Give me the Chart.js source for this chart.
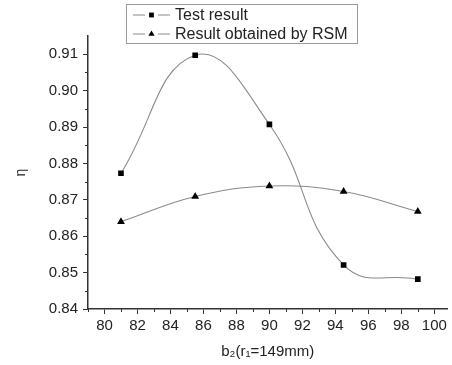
<!DOCTYPE html>
<html>
<head>
<meta charset="utf-8">
<script src="https://cdn.jsdelivr.net/npm/chart.js@4.4.1/dist/chart.umd.min.js"></script>
<style>
  html, body { margin: 0; padding: 0; background: #fff; }
  #wrap { position: relative; width: 452px; height: 365px; }
</style>
</head>
<body>
<div id="wrap"><canvas id="grafico" width="452" height="365"></canvas></div>
<script>
// dados
const b2Values = [81, 85.5, 90, 94.5, 99];
const testResult = [0.8773, 0.9097, 0.8907, 0.8521, 0.8482];
const rsmResult = [0.8640, 0.8709, 0.8738, 0.8723, 0.8668];
const seriesNames = ['Test result', 'Result obtained by RSM'];
const xTitle = 'b\u2082(r\u2081=149mm)';
const yTitle = '\u03b7';

const fonte = "'Liberation Sans', Arial, sans-serif";
const corTexto = '#222';
const corEixo = '#333';
const corLinha = '#8a8a8a';

function pares(xs, ys) {
    return xs.map((x, i) => ({ x: x, y: ys[i] }));
}

// legenda desenhada à mão (caixa com duas linhas, alinhada à esquerda)
const legendaPlugin = {
    id: 'legendaCaixa',
    afterDraw(chart) {
        const ctx = chart.ctx;
        const x0 = 126, y0 = 4, w = 231, h = 39;
        ctx.save();
        ctx.fillStyle = '#fff';
        ctx.fillRect(x0, y0, w, h);
        ctx.strokeStyle = '#9a9a9a';
        ctx.lineWidth = 1;
        ctx.strokeRect(x0 + 0.5, y0 + 0.5, w, h);
        chart.data.datasets.forEach((ds, i) => {
            const y = 15 + i * 19;
            ctx.strokeStyle = ds.borderColor;
            ctx.lineWidth = 1.2;
            ctx.beginPath();
            ctx.moveTo(133, y); ctx.lineTo(145, y);
            ctx.moveTo(158, y); ctx.lineTo(170, y);
            ctx.stroke();
            ctx.fillStyle = '#000';
            Chart.helpers.drawPoint(ctx, {
                pointStyle: ds.pointStyle,
                radius: ds.pointStyle === 'triangle' ? 3.6 : 3.4,
                rotation: 0,
                borderWidth: 0
            }, 151.5, y);
            ctx.fillStyle = corTexto;
            ctx.font = '16px ' + fonte;
            ctx.textBaseline = 'middle';
            ctx.textAlign = 'left';
            ctx.fillText(ds.label, 175, y + 1);
        });
        ctx.restore();
    }
};

// tracinhos menores entre os rótulos
const minorTicksPlugin = {
    id: 'minorTicks',
    afterDraw(chart) {
        const ctx = chart.ctx;
        const xs = chart.scales.x, ys = chart.scales.y;
        const area = chart.chartArea;
        ctx.save();
        ctx.strokeStyle = corEixo;
        ctx.lineWidth = 1;
        ctx.beginPath();
        for (let v = 79; v <= 100.8; v += 1) {
            if (v % 2 === 0) continue;
            const px = Math.round(xs.getPixelForValue(v)) + 0.5;
            ctx.moveTo(px, area.bottom);
            ctx.lineTo(px, area.bottom + 3);
        }
        for (let k = 1; k < 15; k += 2) {
            const v = 0.84 + k * 0.005;
            const py = Math.round(ys.getPixelForValue(v)) + 0.5;
            ctx.moveTo(area.left, py);
            ctx.lineTo(area.left - 3, py);
        }
        ctx.stroke();
        ctx.restore();
    }
};

const ctx = document.getElementById('grafico').getContext('2d');
const grafico = new Chart(ctx, {
    type: 'line',
    data: {
        datasets: [{
            label: seriesNames[0],
            data: pares(b2Values, testResult),
            borderColor: corLinha,
            borderWidth: 1.1,
            pointStyle: 'rect',
            pointRadius: 4,
            pointBackgroundColor: '#000',
            pointBorderWidth: 0,
            tension: 0.45,
            fill: false
        }, {
            label: seriesNames[1],
            data: pares(b2Values, rsmResult),
            borderColor: corLinha,
            borderWidth: 1.1,
            pointStyle: 'triangle',
            pointRadius: 4.5,
            pointBackgroundColor: '#000',
            pointBorderWidth: 0,
            tension: 0.4,
            fill: false
        }]
    },
    options: {
        responsive: false,
        animation: false,
        devicePixelRatio: 1,
        layout: { padding: { top: 36, right: 0, left: 0, bottom: 0 } },
        plugins: {
            legend: { display: false },
            tooltip: { enabled: false }
        },
        scales: {
            x: {
                type: 'linear',
                min: 79,
                max: 100.8,
                afterFit: (s) => { s.height = 56; },
                afterBuildTicks: (s) => {
                    s.ticks = [];
                    for (let v = 80; v <= 100; v += 2) s.ticks.push({ value: v });
                },
                border: { color: corEixo, width: 1.5 },
                grid: { drawOnChartArea: false, tickLength: 5, tickColor: corEixo, tickWidth: 1 },
                ticks: {
                    color: corTexto,
                    font: { family: fonte, size: 15 },
                    padding: 3,
                    maxRotation: 0,
                    autoSkip: false
                },
                title: {
                    display: true,
                    text: xTitle,
                    color: corTexto,
                    font: { family: fonte, size: 15 },
                    padding: { top: 0, bottom: 4 }
                }
            },
            y: {
                min: 0.84,
                max: 0.915,
                afterFit: (s) => { s.width = 88; },
                afterBuildTicks: (s) => {
                    s.ticks = [];
                    for (let k = 0; k <= 7; k++) s.ticks.push({ value: 0.84 + k * 0.01 });
                },
                border: { color: corEixo, width: 1.5 },
                grid: { drawOnChartArea: false, tickLength: 5, tickColor: corEixo, tickWidth: 1 },
                ticks: {
                    color: corTexto,
                    font: { family: fonte, size: 15 },
                    padding: 5,
                    autoSkip: false,
                    callback: (v) => v.toFixed(2)
                },
                title: {
                    display: true,
                    text: yTitle,
                    color: corTexto,
                    font: { family: fonte, size: 14 },
                    padding: { top: 13, bottom: 0 }
                }
            }
        }
    },
    plugins: [minorTicksPlugin, legendaPlugin]
});
</script>
</body>
</html>
